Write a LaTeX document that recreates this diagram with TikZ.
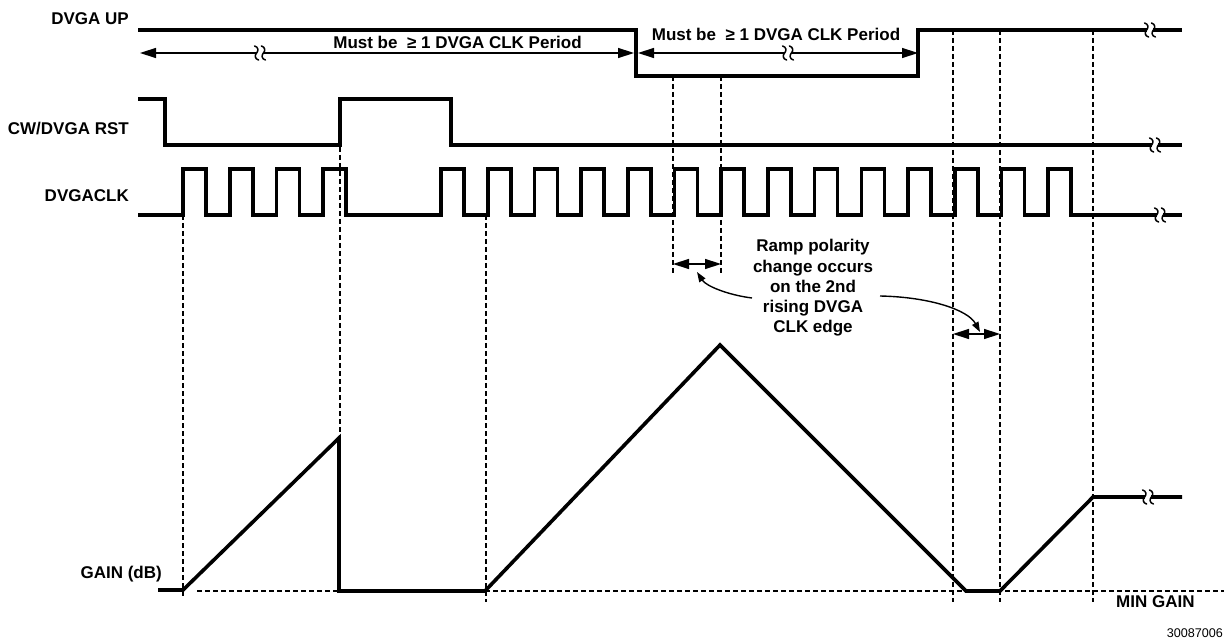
\documentclass[tikz,border=0pt]{standalone}
\usepackage{fontspec}
\setmainfont{Liberation Sans}
\usetikzlibrary{arrows.meta}
\tikzset{
  sig/.style={line width=3.6pt, line join=miter, line cap=butt},
  guide/.style={line width=1.1pt, dash pattern=on 5pt off 3pt},
  dimline/.style={line width=1.4pt},
  bigtip/.tip={Triangle[length=16pt,width=10pt]},
  smalltip/.tip={Triangle[length=10pt,width=7pt]},
  lbl/.style={font=\fontsize{17}{20.3}\selectfont\bfseries, inner sep=0pt},
  idlbl/.style={font=\fontsize{12.6}{14}\selectfont, inner sep=0pt},
  brk/.pic={
    \fill[white] (-3.4,-4) rectangle (3.4,4);
    \foreach \dx in {-3.4,3.4}{
      \draw[line width=1.5pt, line cap=round]
        (\dx-2,-7) .. controls (\dx+2,-6) and (\dx+2,-2) .. (\dx,0)
        .. controls (\dx-2,2) and (\dx-2,6) .. (\dx+2,7);
    }
  }
}
\begin{document}
\begin{tikzpicture}[x=1pt,y=-1pt]
\useasboundingbox (0,0) rectangle (1224,644);

% ---------- labels ----------
\node[lbl, anchor=base east] (lup)  at (129,24.5) {DVGA UP};
\node[lbl, anchor=base east] (lrst) at (129,135) {CW/DVGA RST};
\node[lbl, anchor=base east] (lclk) at (129,202) {DVGACLK};
\node[lbl, anchor=base east] (lgain) at (162,578) {GAIN (dB)};
\node[lbl, anchor=base west] (lmin) at (1116,607) {MIN GAIN};
\node[idlbl, anchor=base east] (lid) at (1223,637) {30087006};
\node[lbl, anchor=base] (t1) at (457.5,48.5) {Must be~ ≥ 1 DVGA CLK Period};
\node[lbl, anchor=base] (t2) at (776,41) {Must be~ ≥ 1 DVGA CLK Period};
\node[lbl, align=center] (ramp) at (813,288)
  {Ramp polarity\\change occurs\\on the 2nd\\rising DVGA\\CLK edge};

% ---------- dashed guides ----------
\draw[guide] (197,591) -- (1224,591);
\draw[guide] (183,215) -- (183,598);
\draw[guide] (340,147) -- (340,438);
\draw[guide] (486,215) -- (486,602);
\draw[guide] (673,76) -- (673,275);
\draw[guide] (721,76) -- (721,275);
\draw[guide] (953,30) -- (953,602);
\draw[guide] (1000,30) -- (1000,602);
\draw[guide] (1093,30) -- (1093,602);

% ---------- DVGA UP ----------
\draw[sig] (138,30) -- (636,30) -- (636,76) -- (918,76) -- (918,30) -- (1182,30);
\pic at (1150,30) {brk};

% ---------- CW/DVGA RST ----------
\draw[sig] (138,99) -- (165,99) -- (165,145) -- (340,145) -- (340,99)
  -- (451,99) -- (451,145) -- (1182,145);
\pic at (1155,145) {brk};

% ---------- DVGACLK ----------
\draw[sig] (138,215)
  \foreach \k [evaluate=\k as \r using 183+46.7*\k] in {0,...,3}
    { -- (\r,215) -- (\r,169) -- (\r+23,169) -- (\r+23,215) }
  \foreach \k [evaluate=\k as \r using 441+46.7*\k] in {0,...,13}
    { -- (\r,215) -- (\r,169) -- (\r+23,169) -- (\r+23,215) }
  -- (1182,215);
\pic at (1160,215) {brk};

% ---------- GAIN ----------
\draw[sig] (158,590) -- (183,590) -- (339,438) -- (339,591) -- (485,591)
  -- (720,345) -- (966,591) -- (1000,591) -- (1093,497) -- (1182,497);
\pic at (1148,497) {brk};

% ---------- dimension arrows ----------
\coordinate (a1l) at (140,53);
\coordinate (a1r) at (634,53);
\coordinate (a2l) at (638,53);
\coordinate (a2r) at (918,53);
\draw[dimline, {bigtip}-{bigtip}] (a1l) -- (a1r);
\draw[dimline, {bigtip}-{bigtip}] (a2l) -- (a2r);
\pic at (260,53) {brk};
\pic at (788,53) {brk};

\coordinate (d1l) at (673,264);
\coordinate (d1r) at (721,264);
\coordinate (d2l) at (953,334);
\coordinate (d2r) at (1000,334);
\draw[dimline, {bigtip}-{bigtip}] (d1l) -- (d1r);
\draw[dimline, {bigtip}-{bigtip}] (d2l) -- (d2r);

% ---------- curved pointers ----------
\coordinate (c1s) at (752,298);
\coordinate (c1e) at (697,272);
\coordinate (c2s) at (880,296);
\coordinate (c2e) at (980,332);
\draw[dimline, -{smalltip}] (c1s) .. controls (728,295) and (706,286) .. (c1e);
\draw[dimline, -{smalltip}] (c2s) .. controls (930,297) and (968,310) .. (c2e);
\end{tikzpicture}
\end{document}
